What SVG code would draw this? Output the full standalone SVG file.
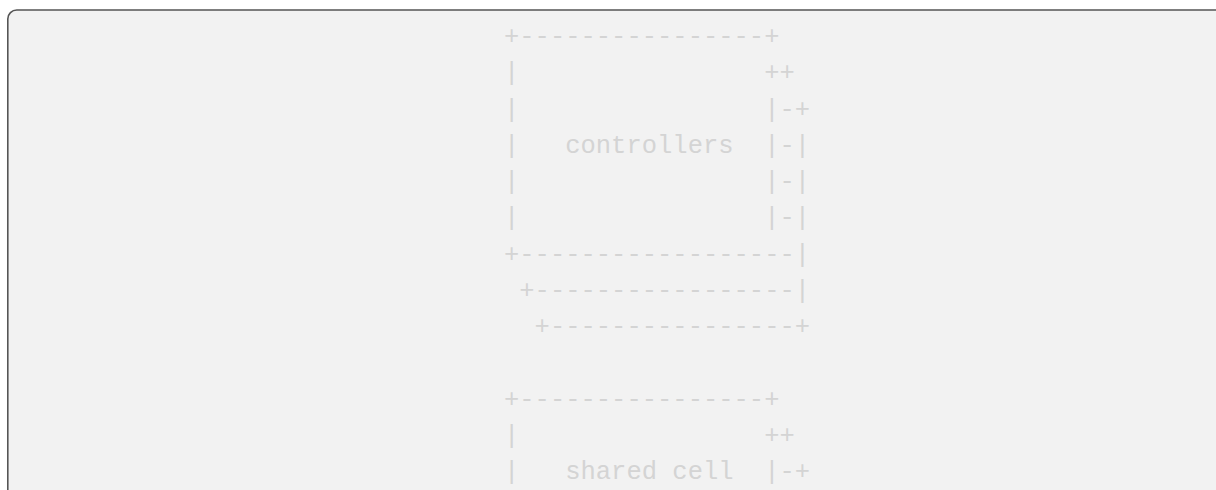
<svg xmlns="http://www.w3.org/2000/svg" width="1216" height="490" viewBox="0 0 1216 490">
<style>
.bg{fill:#f2f2f2;stroke:#555555;stroke-width:1.6}
.t{font-family:"Liberation Mono","DejaVu Sans Mono",monospace;font-size:25.5px;fill:#d4d4d4;white-space:pre}
</style>
<rect class="bg" x="7.8" y="10" width="1300" height="600" rx="9"/>
<g id="controllers">
<text class="t" x="504" y="44.2" xml:space="preserve">+----------------+</text>
<text class="t" x="504" y="80.45" xml:space="preserve">|                ++</text>
<text class="t" x="504" y="116.7" xml:space="preserve">|                |-+</text>
<text class="t" x="504" y="152.95" xml:space="preserve">|   controllers  |-|</text>
<text class="t" x="504" y="189.2" xml:space="preserve">|                |-|</text>
<text class="t" x="504" y="225.45" xml:space="preserve">|                |-|</text>
<text class="t" x="504" y="261.7" xml:space="preserve">+------------------|</text>
<text class="t" x="504" y="297.95" xml:space="preserve"> +-----------------|</text>
<text class="t" x="504" y="334.2" xml:space="preserve">  +----------------+</text>
</g>
<g id="shared-cell">
<text class="t" x="504" y="406.7" xml:space="preserve">+----------------+</text>
<text class="t" x="504" y="442.95" xml:space="preserve">|                ++</text>
<text class="t" x="504" y="479.2" xml:space="preserve">|   shared cell  |-+</text>
</g>
<g id="connectors"></g>
</svg>
